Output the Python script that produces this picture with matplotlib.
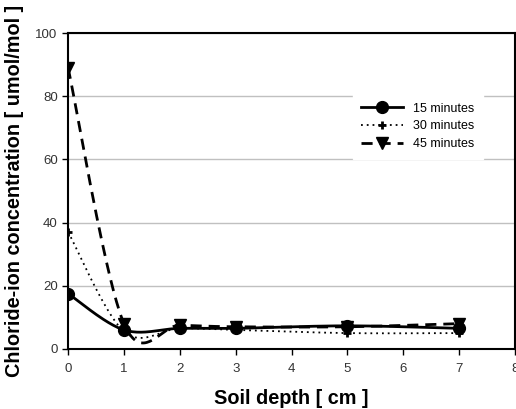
import numpy as np
import matplotlib
matplotlib.use("Agg")
import matplotlib.pyplot as plt

plt.rcParams['font.family'] = ['Liberation Sans', 'DejaVu Sans']

depth = [0, 1, 2, 3, 5, 7]
min15 = [17.5, 6.0, 6.5, 6.5, 7.3, 6.5]
min30 = [37.0, 5.5, 6.5, 6.0, 5.0, 5.0]
min45 = [89.0, 8.0, 7.5, 7.0, 7.0, 8.0]
labels = ['15 minutes', '30 minutes', '45 minutes']


def smooth(xs, ys, n=40):
    # excel-like smoothed line: bezier with control points from neighbours
    p = np.column_stack([xs, ys]).astype(float)
    out = []
    for i in range(len(p) - 1):
        p0 = p[i - 1] if i > 0 else p[i]
        p1 = p[i]
        p2 = p[i + 1]
        p3 = p[i + 2] if i + 2 < len(p) else p[i + 1]
        c1 = p1 + (p2 - p0) / 6.0
        c2 = p2 - (p3 - p1) / 6.0
        t = np.linspace(0, 1, n)[:, None]
        seg = (1 - t) ** 3 * p1 + 3 * (1 - t) ** 2 * t * c1 + 3 * (1 - t) * t ** 2 * c2 + t ** 3 * p2
        out.append(seg)
    out = np.vstack(out)
    return out[:, 0], out[:, 1]


fig = plt.figure(figsize=(5.16, 4.09), dpi=100)
ax = fig.add_axes([0.132, 0.147, 0.866, 0.772])

styles = [
    dict(ls='-', lw=2.0, marker='o', ms=8.5, mew=1),
    dict(ls=(0, (1, 2.2)), lw=1.3, marker='+', ms=6, mew=2),
    dict(ls=(0, (4, 2.5)), lw=2.0, marker='v', ms=9, mew=1),
]
for ys, st, lab in zip([min15, min30, min45], styles, labels):
    sx, sy = smooth(depth, ys)
    ax.plot(sx, sy, color='black', ls=st['ls'], lw=st['lw'])
    ax.plot(depth, ys, color='black', ls='none', marker=st['marker'], ms=st['ms'], mew=st['mew'])
    ax.plot([], [], color='black', ls=st['ls'], lw=st['lw'], marker=st['marker'],
            ms=st['ms'], mew=st['mew'], label=lab)

ax.set_xlim(0, 8)
ax.set_ylim(0, 100)
ax.set_xticks(range(0, 9))
ax.set_yticks(range(0, 101, 20))
ax.yaxis.grid(True, color='#c0c0c0', lw=1)
ax.set_axisbelow(True)
for s in ax.spines.values():
    s.set_linewidth(1.5)
    s.set_color('black')
ax.tick_params(labelsize=9.5, labelcolor='#333333', length=4, width=1, direction='out')
ax.tick_params(axis='x', pad=6)

ax.set_xlabel('Soil depth [ cm ]', fontsize=14.3, fontweight='bold', labelpad=10)
ax.set_ylabel('Chloride-ion concentration [ umol/mol ]', fontsize=14.3, fontweight='bold', labelpad=8)

leg = ax.legend(loc='upper left', bbox_to_anchor=(0.645, 0.795), frameon=True,
                fontsize=9, handlelength=3.3, borderaxespad=0, labelspacing=0.45)
leg.get_frame().set_edgecolor('white')
leg.get_frame().set_facecolor('white')
leg.get_frame().set_alpha(1)
leg.get_frame().set_boxstyle('square', pad=0.3)

fig.savefig('out.png', dpi=100)
